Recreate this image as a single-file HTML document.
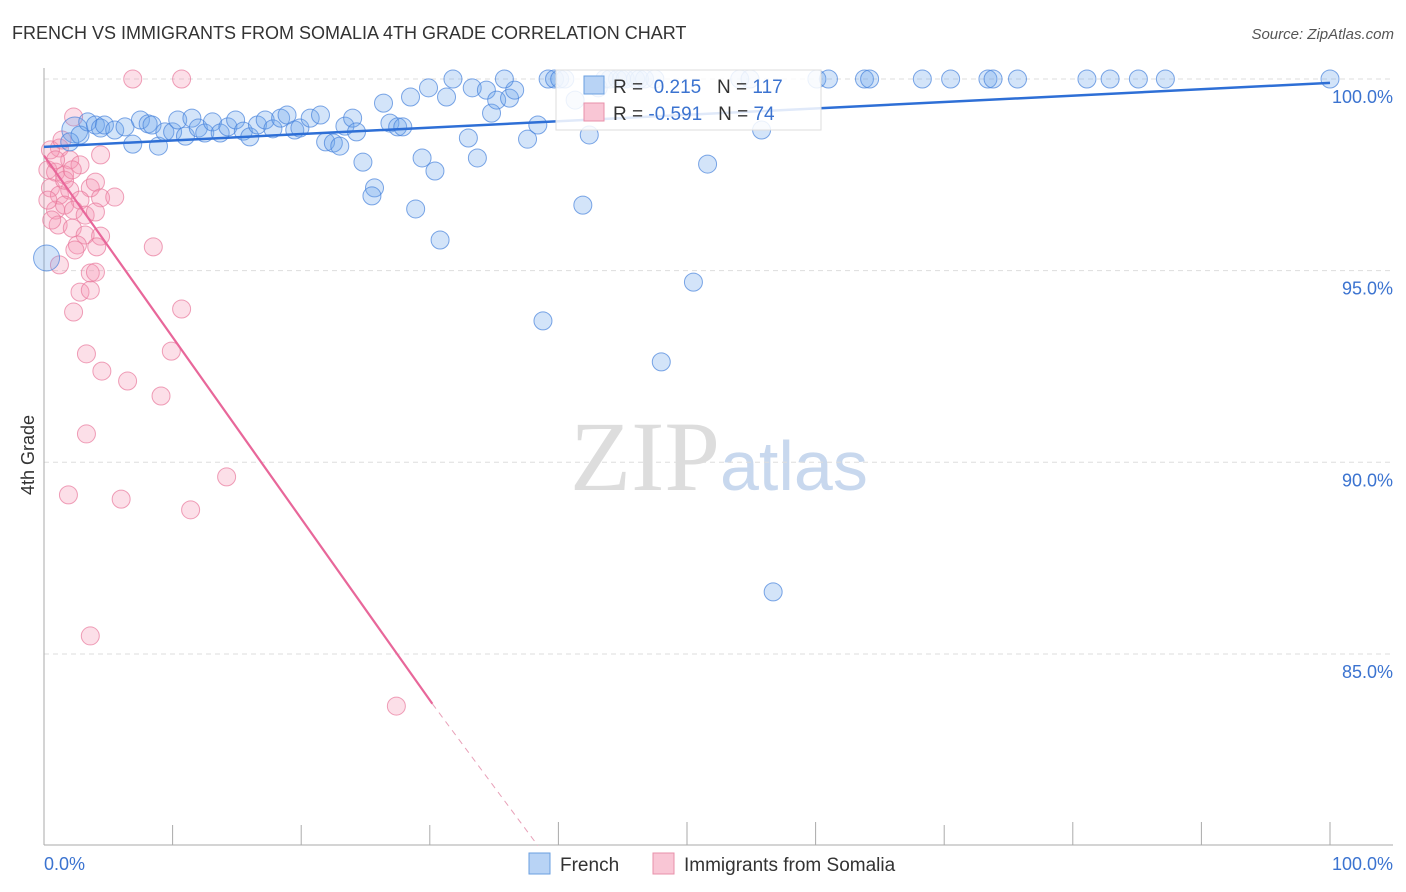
<!DOCTYPE html>
<html><head><meta charset="utf-8"><style>
body{margin:0;background:#fff;font-family:"Liberation Sans",sans-serif}
svg{display:block}
</style></head><body>
<svg id="c" width="1406" height="892">
<text x="12" y="39" font-size="18" fill="#333">FRENCH VS IMMIGRANTS FROM SOMALIA 4TH GRADE CORRELATION CHART</text>
<text x="1394" y="39" font-size="15" fill="#555" font-style="italic" text-anchor="end">Source: ZipAtlas.com</text>
<text x="34" y="455" font-size="18" fill="#333" transform="rotate(-90 34 455)" text-anchor="middle">4th Grade</text>
<text x="720" y="490" font-size="100" fill="#ddd" text-anchor="end" font-family="Liberation Serif">ZIP</text>
<text x="720" y="490" font-size="70" fill="#c8d8ee">atlas</text>
<g id="grid"></g><g id="pts"></g><g id="lines"></g>
<g>
<rect x="556" y="70" width="265" height="60" fill="#fff" fill-opacity="0.85" stroke="#ddd"/>
<rect x="584" y="76" width="20" height="18" fill="#b8d3f5" stroke="#6a9fe0"/>
<text x="613" y="93" font-size="19" fill="#333">R = <tspan fill="#3b73d0">&#160;0.215</tspan>&#160;&#160;&#160;N = <tspan fill="#3b73d0">117</tspan></text>
<rect x="584" y="103" width="20" height="18" fill="#f9c6d5" stroke="#e890aa"/>
<text x="613" y="120" font-size="19" fill="#333">R = <tspan fill="#3b73d0">-0.591</tspan>&#160;&#160;&#160;N = <tspan fill="#3b73d0">74</tspan></text>
</g>
<g>
<rect x="529" y="853" width="21" height="21" fill="#b8d3f5" stroke="#6a9fe0"/>
<text x="560" y="871" font-size="19" fill="#333">French</text>
<rect x="653" y="853" width="21" height="21" fill="#f9c6d5" stroke="#e890aa"/>
<text x="684" y="871" font-size="19" fill="#333">Immigrants from Somalia</text>
</g>
</svg>
<script>
const yTicks=[100,95,90,85];
const xTickLabels=["0.0%","100.0%"];
const frenchX=[0.2,2.4,2.0,2.8,3.4,4.0,4.4,4.7,5.5,6.3,6.9,7.5,8.1,8.4,8.9,9.4,10.0,10.4,11.0,11.5,12.0,12.5,13.1,13.7,14.3,14.9,15.5,16.0,16.6,17.2,17.8,18.4,18.9,19.5,19.9,20.7,21.5,21.9,22.5,23.0,23.4,24.0,24.3,24.8,25.7,25.5,26.4,26.9,27.5,27.9,28.5,28.9,29.4,29.9,30.4,30.8,31.3,31.8,33.0,33.3,33.7,34.4,34.8,35.2,36.2,36.6,35.8,37.6,38.4,38.8,39.2,39.7,40.1,40.5,41.3,41.9,42.4,43.1,43.6,44.0,44.6,44.9,45.2,46.0,46.3,46.7,47.5,48.0,50.5,51.6,54.1,54.9,55.8,56.7,60.1,61.0,63.8,64.2,68.3,70.5,73.4,73.8,75.7,81.1,82.9,85.1,87.2,100];
const frenchY=[95.33,98.67,98.36,98.54,98.88,98.8,98.72,98.8,98.67,98.75,98.3,98.93,98.83,98.8,98.25,98.62,98.62,98.93,98.51,98.98,98.72,98.59,98.88,98.59,98.75,98.93,98.64,98.49,98.8,98.93,98.7,98.98,99.06,98.67,98.72,98.98,99.06,98.36,98.33,98.25,98.77,98.98,98.62,97.83,97.16,96.95,99.37,98.85,98.75,98.75,99.53,96.61,97.94,99.77,97.6,95.8,99.53,100,98.46,99.77,97.94,99.71,99.11,99.45,99.5,99.71,100,98.43,98.8,93.69,100,100,100,100,99.45,96.71,98.54,99.77,100,100,100,100,100,100,100,100,100,92.62,94.7,97.78,100,100,98.67,86.62,100,100,100,100,100,100,100,100,100,100,100,100,100,100];
const frenchR=[14,14,10,10,10,10,10,10,10,10,10,10,10,10,10,10,10,10,10,10,10,10,10,10,10,10,10,10,10,10,10,10,10,10,10,10,10,10,10,10,10,10,10,10,10,10,10,10,10,10,10,10,10,10,10,10,10,10,10,10,10,10,10,10,10,10,10,10,10,10,10,10,10,10,10,10,10,10,10,10,10,10,10,10,10,10,10,10,10,10,10,10,10,10,10,10,10,10,10,10,10,10,10,10,10,10,10,10];
const somaliaX=[6.9,10.7,2.3,4.4,1.2,2.0,2.8,0.3,0.9,1.6,3.6,4.0,0.5,1.2,2.0,2.8,4.4,5.5,0.9,1.6,2.3,3.2,4.0,1.1,2.2,3.2,4.4,2.6,4.1,8.5,1.2,2.4,3.6,4.0,2.8,3.6,2.3,10.7,3.3,9.9,4.5,6.5,9.1,3.3,1.9,6.0,14.2,11.4,3.6,27.4,0.5,0.9,0.3,0.6,1.6,2.2,1.4];
const somaliaY=[100,100,99.01,98.02,98.2,97.89,97.76,97.63,97.57,97.5,97.16,97.31,97.16,96.97,97.1,96.84,96.9,96.92,96.58,96.71,96.58,96.45,96.53,96.19,96.11,95.93,95.9,95.67,95.62,95.62,95.15,95.54,94.94,94.96,94.44,94.49,93.92,94.0,92.83,92.9,92.38,92.12,91.73,90.74,89.15,89.04,89.62,88.76,85.47,83.64,98.15,97.89,96.84,96.32,97.36,97.63,98.41];
const frenchTrend=[98.23,99.9];
const somaliaTrend=[98.0,83.7,80.0];
const somaliaTrendX=[0,30.2,38.4];
const NS="http://www.w3.org/2000/svg";
const X0=44,X1=1330,Y0=79,PY=38.33;
const sx=v=>X0+(X1-X0)*v/100;
const sy=v=>Y0+(100-v)*PY;
function mk(t,a,p){const e=document.createElementNS(NS,t);for(const k in a)e.setAttribute(k,a[k]);p.appendChild(e);return e;}
const svg=document.getElementById('c'),G=document.getElementById('grid'),P=document.getElementById('pts'),L=document.getElementById('lines');
yTicks.forEach(t=>{
 const l=mk('line',{x1:44,x2:1393,y1:sy(t),y2:sy(t),stroke:'#ddd','stroke-dasharray':'5,4'},G);
 
 
 const tx=mk('text',{x:1393,y:sy(t)+24,'font-size':18,fill:'#3b73d0','text-anchor':'end'},G);
 tx.textContent=t.toFixed(1)+'%';
 
 
});
const ax=mk('line',{x1:44,x2:44,y1:68,y2:845,stroke:'#aaa'},G);


const bx=mk('line',{x1:44,x2:1393,y1:845,y2:845,stroke:'#aaa'},G);


for(let i=1;i<=10;i++){
 const tk=mk('line',{x1:sx(i*10),x2:sx(i*10),y1:(i>=4&&i!=7)?822:825,y2:845,stroke:'#aaa'},G);
 
 
}
[[0,'start',44],[1,'end',1393]].forEach(([i,a,x])=>{
 const t=mk('text',{x:x,y:870,'font-size':18,fill:'#3b73d0','text-anchor':a},G);
 t.textContent=xTickLabels[i];
 
 
});
somaliaX.forEach((v,i)=>{
 const c=mk('circle',{cx:sx(v),cy:sy(somaliaY[i]),r:9,fill:'rgba(244,150,180,0.3)',stroke:'rgba(232,120,155,0.7)'},P);
 
 
});
frenchX.forEach((v,i)=>{
 const c=mk('circle',{cx:sx(v),cy:sy(frenchY[i]),r:frenchR[i]-1,fill:'rgba(110,165,235,0.3)',stroke:'rgba(70,130,220,0.7)'},P);
 
 
});
const fl=mk('line',{x1:sx(0),y1:sy(frenchTrend[0]),x2:sx(100),y2:sy(frenchTrend[1]),stroke:'#2e6fd6','stroke-width':2.5},L);


const sl=mk('line',{x1:sx(somaliaTrendX[0]),y1:sy(somaliaTrend[0]),x2:sx(somaliaTrendX[1]),y2:sy(somaliaTrend[1]),stroke:'#e8679a','stroke-width':2.2},L);


const sd=mk('line',{x1:sx(somaliaTrendX[1]),y1:sy(somaliaTrend[1]),x2:sx(somaliaTrendX[2]),y2:sy(somaliaTrend[2]),stroke:'#e8a0b8','stroke-width':1,'stroke-dasharray':'6,5'},L);


</script>
</body></html>
